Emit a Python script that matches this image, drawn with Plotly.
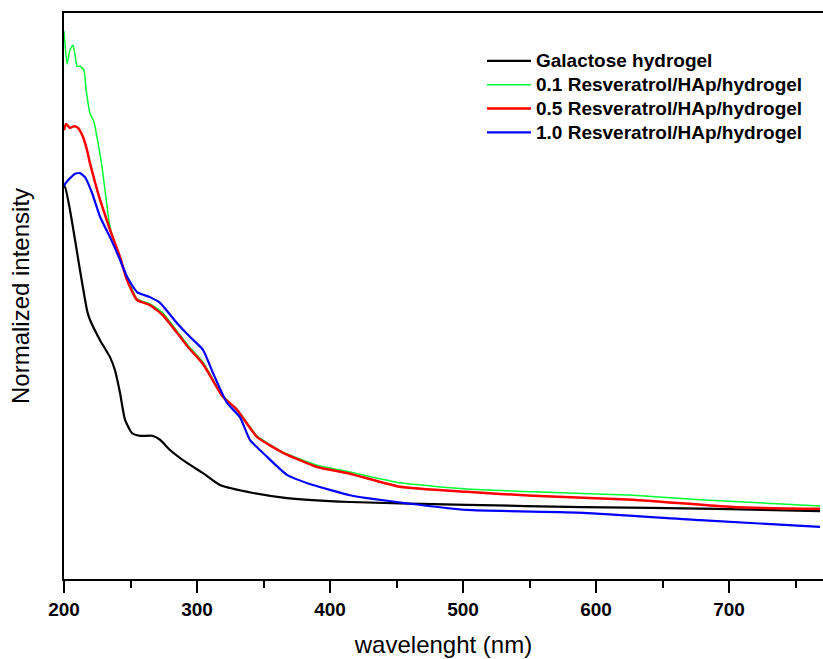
import plotly.graph_objects as go

# ---- data ----
series_names = ["Galactose hydrogel", "0.1 Resveratrol/HAp/hydrogel",
                "0.5 Resveratrol/HAp/hydrogel", "1.0 Resveratrol/HAp/hydrogel"]
series_colors = ["#000000", "#00FF33", "#FF0000", "#0000FF"]

wl_black = [200.0, 200.8, 204.5, 208.3, 212.0, 217.3, 219.5, 227.1, 234.6, 238.3, 242.1, 245.9,
            251.1, 257.1, 266.2, 272.2, 279.7, 292.5, 304.5, 317.3, 342.1, 367.7, 415.0, 503.0,
            590.2, 691.0, 768.4]
int_black = [0.691, 0.693, 0.652, 0.599, 0.546, 0.475, 0.458, 0.422, 0.392, 0.369, 0.329, 0.281,
             0.258, 0.253, 0.253, 0.246, 0.228, 0.205, 0.187, 0.166, 0.152, 0.143, 0.136, 0.131,
             0.127, 0.124, 0.120]

wl_green = [200.0, 202.3, 204.5, 206.8, 208.3, 209.8, 212.0, 215.0, 216.5, 219.5, 222.6, 225.6,
            228.6, 234.6, 240.6, 247.4, 254.9, 264.7, 274.4, 285.0, 293.2, 304.5, 319.5, 330.1,
            345.1, 364.7, 377.4, 390.2, 415.0, 452.6, 503.0, 552.6, 627.8, 678.2, 768.4]
int_green = [0.968, 0.910, 0.935, 0.943, 0.926, 0.906, 0.906, 0.899, 0.867, 0.823, 0.807, 0.770,
             0.728, 0.622, 0.576, 0.534, 0.495, 0.486, 0.470, 0.438, 0.413, 0.383, 0.323, 0.300,
             0.253, 0.224, 0.212, 0.201, 0.189, 0.170, 0.159, 0.154, 0.148, 0.140, 0.129]

wl_red = [200.0, 201.5, 204.5, 207.5, 210.5, 214.3, 217.3, 219.5, 223.3, 227.1, 234.6, 242.1,
          247.4, 254.9, 264.7, 274.4, 285.0, 293.2, 304.5, 319.5, 330.1, 345.1, 364.7, 377.4,
          390.2, 415.0, 452.6, 503.0, 552.6, 627.8, 703.0, 768.4]
int_red = [0.793, 0.804, 0.797, 0.800, 0.797, 0.781, 0.758, 0.735, 0.701, 0.670, 0.617, 0.569,
           0.528, 0.493, 0.484, 0.466, 0.435, 0.410, 0.380, 0.322, 0.299, 0.251, 0.223, 0.210,
           0.198, 0.186, 0.163, 0.154, 0.147, 0.140, 0.127, 0.124]

wl_blue = [200.0, 200.8, 204.5, 208.3, 212.0, 215.8, 221.1, 227.1, 234.6, 242.1, 247.4, 254.9,
           264.7, 272.2, 285.0, 294.7, 304.5, 312.0, 322.6, 332.3, 339.8, 352.6, 367.7, 387.2,
           415.0, 427.8, 460.2, 503.0, 590.2, 678.2, 768.4]
int_blue = [0.694, 0.698, 0.708, 0.716, 0.717, 0.710, 0.682, 0.640, 0.604, 0.564, 0.534, 0.507,
            0.498, 0.488, 0.452, 0.428, 0.405, 0.364, 0.311, 0.286, 0.246, 0.216, 0.184, 0.166,
            0.148, 0.143, 0.133, 0.122, 0.117, 0.104, 0.092]

x_ticks = [200, 300, 400, 500, 600, 700]
x_title = "wavelenght (nm)"
y_title = "Normalized intensity"

# ---- figure ----
fig = go.Figure()
data = [(wl_black, int_black, 2.2), (wl_green, int_green, 1.5),
        (wl_red, int_red, 2.5), (wl_blue, int_blue, 2.2)]
for (xs, ys, w), name, col in zip(data, series_names, series_colors):
    fig.add_trace(go.Scatter(x=xs, y=ys, mode="lines",
                             name='<span style="font-size:19px">' + name + '</span>',
                             line=dict(color=col, width=w, shape="spline", smoothing=0.5)))

fig.update_layout(
    width=823, height=659,
    margin=dict(l=64, r=0, t=13, b=80),
    paper_bgcolor="white", plot_bgcolor="white",
    font=dict(family="Liberation Sans, Arial, sans-serif", color="#000000"),
    showlegend=True,
    legend=dict(x=(482 - 64) / 759, y=(579 - 44) / 566, xanchor="left", yanchor="top",
                bgcolor="rgba(0,0,0,0)", borderwidth=0,
                font=dict(size=16, family="Liberation Sans, Arial, sans-serif",
                          weight="bold", color="black"),
                itemwidth=44, tracegroupgap=0),
)
fig.update_xaxes(
    range=[200, 200 + 759 / 1.33], tickvals=x_ticks,
    ticks="outside", ticklen=12, tickwidth=2, tickcolor="black",
    minor=dict(dtick=50, ticks="outside", ticklen=7, tickwidth=2, tickcolor="black"),
    showline=True, linewidth=2, linecolor="black", mirror=True,
    showgrid=False, zeroline=False,
    tickfont=dict(size=19, weight="bold", color="black"),
    title=dict(text=x_title, font=dict(size=24, color="black"), standoff=17),
    automargin=False,
)
fig.update_yaxes(
    range=[0, 1], showticklabels=False, ticks="",
    showline=True, linewidth=2, linecolor="black",
    showgrid=False, zeroline=False,
    title=dict(text=y_title, font=dict(size=24, color="black"), standoff=26),
    automargin=False,
)

fig.write_html("out.html")
